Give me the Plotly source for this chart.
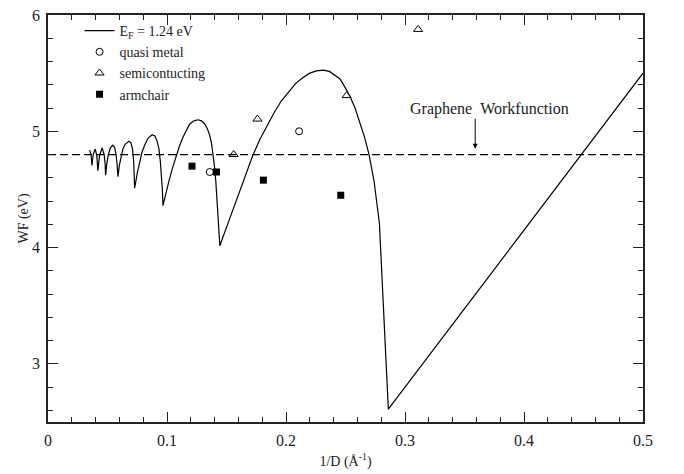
import plotly.graph_objects as go

# Solid curve, E_F = 1.24 eV
curve_x = [0.0349, 0.0362, 0.0369, 0.0380, 0.0397, 0.0410, 0.0419, 0.0433, 0.0455, 0.0472,
           0.0480, 0.0484, 0.0494, 0.0507, 0.0525, 0.0545, 0.0560, 0.0572, 0.0581, 0.0588,
           0.0600, 0.0615, 0.0630, 0.0650, 0.0680, 0.0697, 0.0710, 0.0720, 0.0725, 0.0728,
           0.0750, 0.0770, 0.0790, 0.0812, 0.0840, 0.0875, 0.0898, 0.0915, 0.0932, 0.0944,
           0.0955, 0.0961, 0.0966,
           0.0995, 0.1023, 0.1051, 0.1079, 0.1107, 0.1135, 0.1163, 0.1191, 0.1226, 0.1261,
           0.1290, 0.1317, 0.1340, 0.1359, 0.1375, 0.1387, 0.1400, 0.1410, 0.1420, 0.1429,
           0.1437, 0.1444,
           0.1520, 0.1600, 0.1660, 0.1720, 0.1780, 0.1840, 0.1900, 0.1960, 0.2020, 0.2080,
           0.2140, 0.2200, 0.2255, 0.2313, 0.2365, 0.2415, 0.2454, 0.2495, 0.2538, 0.2580,
           0.2622, 0.2660, 0.2698, 0.2740, 0.2785, 0.2822, 0.2860, 0.5000]
curve_y = [4.838, 4.800, 4.706, 4.800, 4.847, 4.790, 4.662, 4.790, 4.858, 4.800,
           4.720, 4.622, 4.720, 4.800, 4.860, 4.880, 4.860, 4.800, 4.710, 4.610,
           4.710, 4.790, 4.850, 4.890, 4.915, 4.900, 4.850, 4.740, 4.630, 4.510,
           4.640, 4.740, 4.820, 4.880, 4.940, 4.970, 4.960, 4.920, 4.850, 4.740,
           4.600, 4.500, 4.360,
           4.490, 4.600, 4.700, 4.796, 4.880, 4.950, 5.010, 5.063, 5.090, 5.099,
           5.090, 5.063, 5.020, 4.965, 4.890, 4.802, 4.690, 4.572, 4.430, 4.291,
           4.150, 4.016,
           4.230, 4.450, 4.620, 4.790, 4.930, 5.050, 5.160, 5.260, 5.340, 5.410,
           5.460, 5.500, 5.520, 5.526, 5.515, 5.480, 5.450, 5.380, 5.300, 5.200,
           5.077, 4.950, 4.800, 4.570, 4.207, 3.450, 2.610, 5.500]

# Graphene workfunction reference level
graphene_wf = 4.8
graphene_x = [0.0, 0.5]

# Markers
quasi_x = [0.136, 0.211]
quasi_y = [4.65, 5.00]
semi_x = [0.156, 0.176, 0.251, 0.311]
semi_y = [4.80, 5.105, 5.307, 5.876]
arm_x = [0.121, 0.1416, 0.181, 0.246]
arm_y = [4.70, 4.65, 4.58, 4.45]

FONT = "Liberation Serif, Times New Roman, serif"
INK = "#222222"

fig = go.Figure()
fig.add_trace(go.Scatter(x=graphene_x, y=[graphene_wf] * len(graphene_x), mode="lines",
                         line=dict(color="black", width=1.2, dash="8px,4px"),
                         showlegend=False, hoverinfo="skip"))
fig.add_trace(go.Scatter(x=curve_x, y=curve_y, mode="lines",
                         line=dict(color="black", width=1.2),
                         name="E<sub>F</sub> = 1.24 eV"))
fig.add_trace(go.Scatter(x=quasi_x, y=quasi_y, mode="markers", name="quasi metal",
                         marker=dict(symbol="circle-open", size=7, color="black",
                                     line=dict(width=1, color="black"))))
fig.add_trace(go.Scatter(x=semi_x, y=semi_y, mode="markers", name="semicontucting",
                         marker=dict(symbol="triangle-up-open", size=8, color="black",
                                     line=dict(width=1, color="black"))))
fig.add_trace(go.Scatter(x=arm_x, y=arm_y, mode="markers", name="armchair",
                         marker=dict(symbol="square", size=7, color="black")))

fig.add_annotation(x=0.359, y=4.85, ax=0.359, ay=5.12, xref="x", yref="y",
                   axref="x", ayref="y", text="", showarrow=True,
                   arrowhead=2, arrowsize=1, arrowwidth=1, arrowcolor="black")
fig.add_annotation(x=0.371, y=5.19, xref="x", yref="y", text="Graphene\u00a0\u00a0Workfunction",
                   showarrow=False, font=dict(family=FONT, size=16, color=INK))

axis_common = dict(showline=True, linecolor=INK, linewidth=1.6, mirror="ticks",
                   ticks="inside", ticklen=10, tickwidth=1.2, tickcolor=INK,
                   showgrid=False, zeroline=False, ticklabelstandoff=3,
                   tickfont=dict(family=FONT, size=16, color=INK))
fig.update_xaxes(range=[0, 0.5], dtick=0.1, tick0=0,
                 minor=dict(dtick=0.02, ticks="inside", ticklen=5, tickcolor=INK, tickwidth=1),
                 title=dict(text="1/D (Å<sup>-1</sup>)", font=dict(family=FONT, size=14, color=INK),
                            standoff=8),
                 **axis_common)
fig.update_yaxes(range=[2.5, 6], dtick=1, tick0=0,
                 minor=dict(dtick=0.2, ticks="inside", ticklen=5, tickcolor=INK, tickwidth=1),
                 title=dict(text="WF (eV)", font=dict(family=FONT, size=14, color=INK),
                            standoff=0),
                 **axis_common)

fig.update_layout(width=684, height=474,
                  margin=dict(l=48, r=41, t=7, b=51),
                  plot_bgcolor="white", paper_bgcolor="white",
                  font=dict(family=FONT, size=14, color=INK),
                  legend=dict(x=0.053, y=1.0, xanchor="left", yanchor="top",
                              bgcolor="rgba(0,0,0,0)", font=dict(family=FONT, size=14, color=INK),
                              tracegroupgap=0))

fig.write_html("out.html")
